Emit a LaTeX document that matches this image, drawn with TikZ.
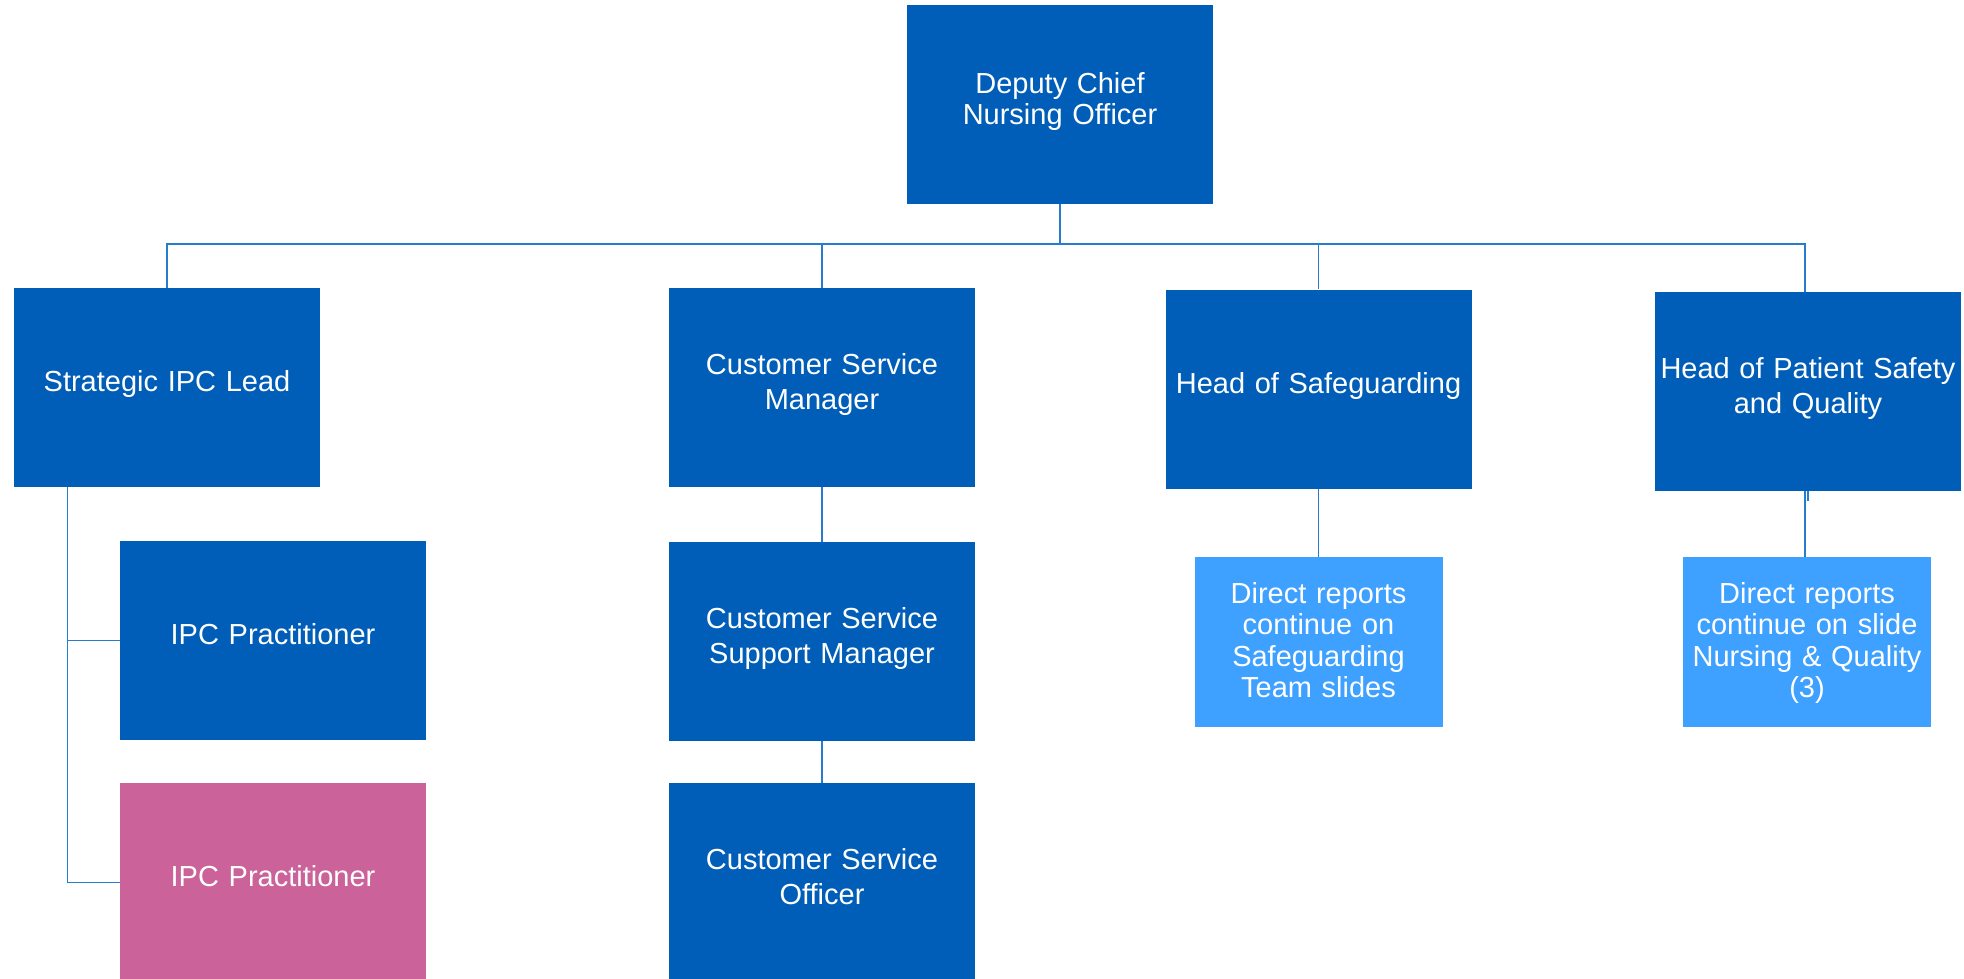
\documentclass[tikz,border=0pt]{standalone}
\usepackage{fontspec}
\setmainfont{Liberation Sans}
\definecolor{nhsblue}{RGB}{0,94,184}
\definecolor{lightblue}{RGB}{62,160,255}
\definecolor{pinkbox}{RGB}{203,98,153}
\definecolor{linkblue}{RGB}{38,125,205}
\tikzset{
  box/.style={rectangle, fill=nhsblue, text=white, inner sep=0pt,
    minimum width=153pt, minimum height=99.5pt, text width=153pt, align=center,
    font=\fontsize{14.5pt}{17.75pt}\selectfont, text height=10.4pt},
  oneline/.style={text depth=6pt},
  twoline/.style={text depth=23.75pt},
  topbox/.style={box, font=\fontsize{14.5pt}{15.75pt}\selectfont, text depth=21.45pt},
  drbox/.style={box, fill=lightblue, minimum width=124pt, text width=124pt,
    minimum height=85pt, font=\fontsize{14.5pt}{15.75pt}\selectfont, text depth=49.25pt},
  conn/.style={draw=linkblue, line width=0.8pt}
}
\begin{document}
\begin{tikzpicture}[x=0.5pt, y=-0.5pt]
\useasboundingbox (0,0) rectangle (1964,979);
% nodes
\node[topbox] (dco) at (1060,104.5) {Deputy Chief\\Nursing Officer};
\node[box, oneline] (sipc) at (167,387.5) {Strategic IPC Lead};
\node[box, twoline] (csm) at (822,387.5) {Customer Service\\Manager};
\node[box, oneline] (hos) at (1318.5,389) {Head of Safeguarding};
\node[box, twoline] (hps) at (1808,391.5) {Head of Patient Safety\\and Quality};
\node[box, oneline] (ipc1) at (273,640.5) {IPC Practitioner};
\node[box, oneline, fill=pinkbox] (ipc2) at (273,882.5) {IPC Practitioner};
\node[box, twoline] (cssm) at (822,641.5) {Customer Service\\Support Manager};
\node[box, twoline] (cso) at (822,882.5) {Customer Service\\Officer};
\node[drbox] (dr1) at (1318.5,642) {Direct reports\\continue on\\Safeguarding\\Team slides};
\node[drbox] (dr2) at (1807,642) {Direct reports\\continue on slide\\Nursing \& Quality\\(3)};
% connectors
\coordinate (barL) at (167,244);
\coordinate (barR) at (1805,244);
\coordinate (spine) at (67.5,487);
\draw[conn] (dco.south) -- (dco.south |- barL);
\draw[conn] (sipc.north) -- (barL) -- (barR) -- (barR |- hps.north);
\draw[conn] (csm.north) -- (csm.north |- barL);
\draw[conn] (hos.north) -- (hos.north |- barL);
\draw[conn] (spine) -- (spine |- ipc2.west) -- (ipc2.west);
\draw[conn] (spine |- ipc1.west) -- (ipc1.west);
\draw[conn] (csm.south) -- (cssm.north);
\draw[conn] (cssm.south) -- (cso.north);
\draw[conn] (hos.south) -- (dr1.north);
\draw[conn] (barR |- hps.south) -- (barR |- dr2.north);
\draw[conn] (hps.south) -- ++(0,10);
\end{tikzpicture}
\end{document}
